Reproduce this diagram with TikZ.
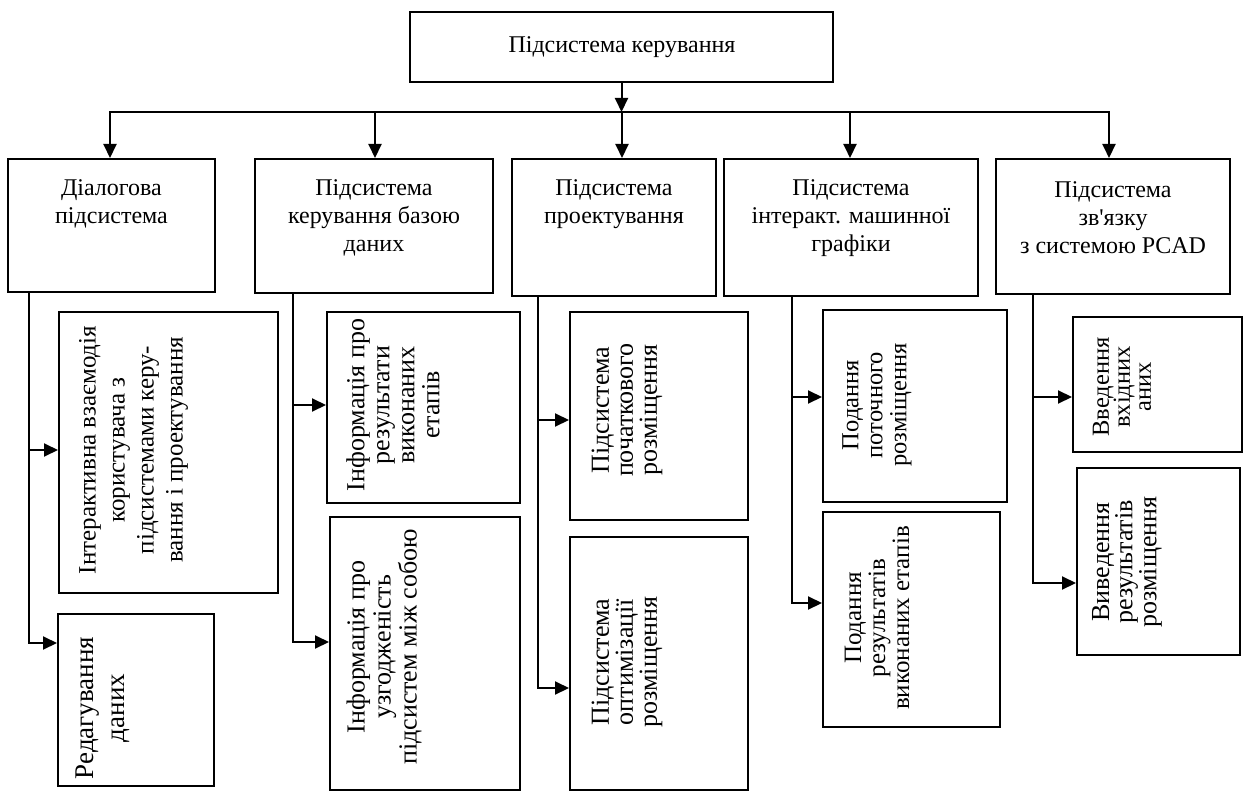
\documentclass[tikz,border=0pt]{standalone}
\usepackage{fontspec}
\setmainfont{Liberation Serif}[Ligatures=TeXOff]
\usetikzlibrary{arrows.meta,fit}
\begin{document}
\begin{tikzpicture}[x=1pt,y=-1pt,
  box/.style={draw, line width=2pt, inner sep=0pt},
  hl/.style={align=center, inner sep=0pt, font=\fontsize{24}{#1}\selectfont},
  rl/.style 2 args={rotate=90, align=center, inner sep=0pt, font=\fontsize{#1}{#2}\selectfont},
  arr/.style={line width=2pt, line join=miter, -{Triangle[length=14pt,width=13pt]}}]
\useasboundingbox (0,0) rectangle (1249,794);
% top
\node[box, fit={(410,12) (833,82)}] (top) {};
\node[hl=28] (ttop) at (622,47) {Підсистема керування};
% level 2
\node[box, fit={(8,159) (215,292)}] (b1) {};
\node[hl=28] (tb1) at (111.5,204) {Діалогова\\підсистема};
\node[box, fit={(255,159) (493,293)}] (b2) {};
\node[hl=28] (tb2) at (374,218) {Підсистема\\керування базою\\даних};
\node[box, fit={(512,159) (716,296)}] (b3) {};
\node[hl=28] (tb3) at (614,204) {Підсистема\\проектування};
\node[box, fit={(724,159) (978,296)}] (b4) {};
\node[hl=28] (tb4) at (851,218) {Підсистема\\інтеракт. машинної\\графіки};
\node[box, fit={(996,159) (1230,294)}] (b5) {};
\node[hl=28] (tb5) at (1113,218) {Підсистема\\зв'язку\\з системою PCAD};
% bus
\coordinate (d1) at (110,112);
\coordinate (d2) at (375,112);
\coordinate (d3) at (622,112);
\coordinate (d4) at (850,112);
\coordinate (d5) at (1109,112);
\draw[arr] (top.south) -- (top.south |- d3);
\draw[arr] (d3) -| (d1 |- b1.north);
\draw[arr] (d3) -| (d5 |- b5.north);
\draw[arr] (d2) -- (d2 |- b2.north);
\draw[arr] (d3) -- (d3 |- b3.north);
\draw[arr] (d4) -- (d4 |- b4.north);
% level 3 column 1
\node[box, fit={(59,312) (278,593)}] (a1) {};
\node[rl={25}{29}] (ta1) at (133.5,450) {Інтерактивна взаємодія\\користувача з\\підсистемами керу-\\вання і проектування};
\node[box, fit={(58,614) (214,786)}] (c1) {};
\node[rl={27}{31}] (tc1) at (102.5,708) {Редагування\\даних};
% column 2
\node[box, fit={(327,312) (520,503)}] (a2) {};
\node[rl={26}{25}] (ta2) at (393,405) {Інформація про\\результати\\виконаних\\етапів};
\node[box, fit={(330,517) (520,790)}] (c2) {};
\node[rl={26}{26}] (tc2) at (384,647) {Інформація про\\узгодженість\\підсистем між собою};
% column 3
\node[box, fit={(570,312) (748,520)}] (a3) {};
\node[rl={26}{24}] (ta3) at (627,410) {Підсистема\\початкового\\розміщення};
\node[box, fit={(570,537) (748,790)}] (c3) {};
\node[rl={26}{24}] (tc3) at (627,662) {Підсистема\\оптимізації\\розміщення};
% column 4
\node[box, fit={(823,310) (1007,502)}] (a4) {};
\node[rl={24.5}{24}] (ta4) at (877,405) {Подання\\поточного\\розміщення};
\node[box, fit={(823,512) (1000,727)}] (c4) {};
\node[rl={25}{24}] (tc4) at (877,618) {Подання\\результатів\\виконаних етапів};
% column 5
\node[box, fit={(1073,317) (1242,452)}] (a5) {};
\node[rl={24.5}{21}] (ta5) at (1122,387) {Введення\\вхідних\\аних};
\node[box, fit={(1077,468) (1240,655)}] (c5) {};
\node[rl={26}{22}] (tc5) at (1127,562) {Виведення\\результатів\\розміщення};
% column connectors
\coordinate (p1a) at (29,450);  \coordinate (p1c) at (29,643);
\coordinate (p2a) at (293,405); \coordinate (p2c) at (293,642);
\coordinate (p3a) at (538,420); \coordinate (p3c) at (538,688);
\coordinate (p4a) at (792,397); \coordinate (p4c) at (792,603);
\coordinate (p5a) at (1033,397);\coordinate (p5c) at (1033,583);
\draw[arr] (b1.south -| p1c) -- (p1c) -- (p1c -| c1.west);
\draw[arr] (p1a) -- (p1a -| a1.west);
\draw[arr] (b2.south -| p2c) -- (p2c) -- (p2c -| c2.west);
\draw[arr] (p2a) -- (p2a -| a2.west);
\draw[arr] (b3.south -| p3c) -- (p3c) -- (p3c -| c3.west);
\draw[arr] (p3a) -- (p3a -| a3.west);
\draw[arr] (b4.south -| p4c) -- (p4c) -- (p4c -| c4.west);
\draw[arr] (p4a) -- (p4a -| a4.west);
\draw[arr] (b5.south -| p5c) -- (p5c) -- (p5c -| c5.west);
\draw[arr] (p5a) -- (p5a -| a5.west);
\end{tikzpicture}
\end{document}
